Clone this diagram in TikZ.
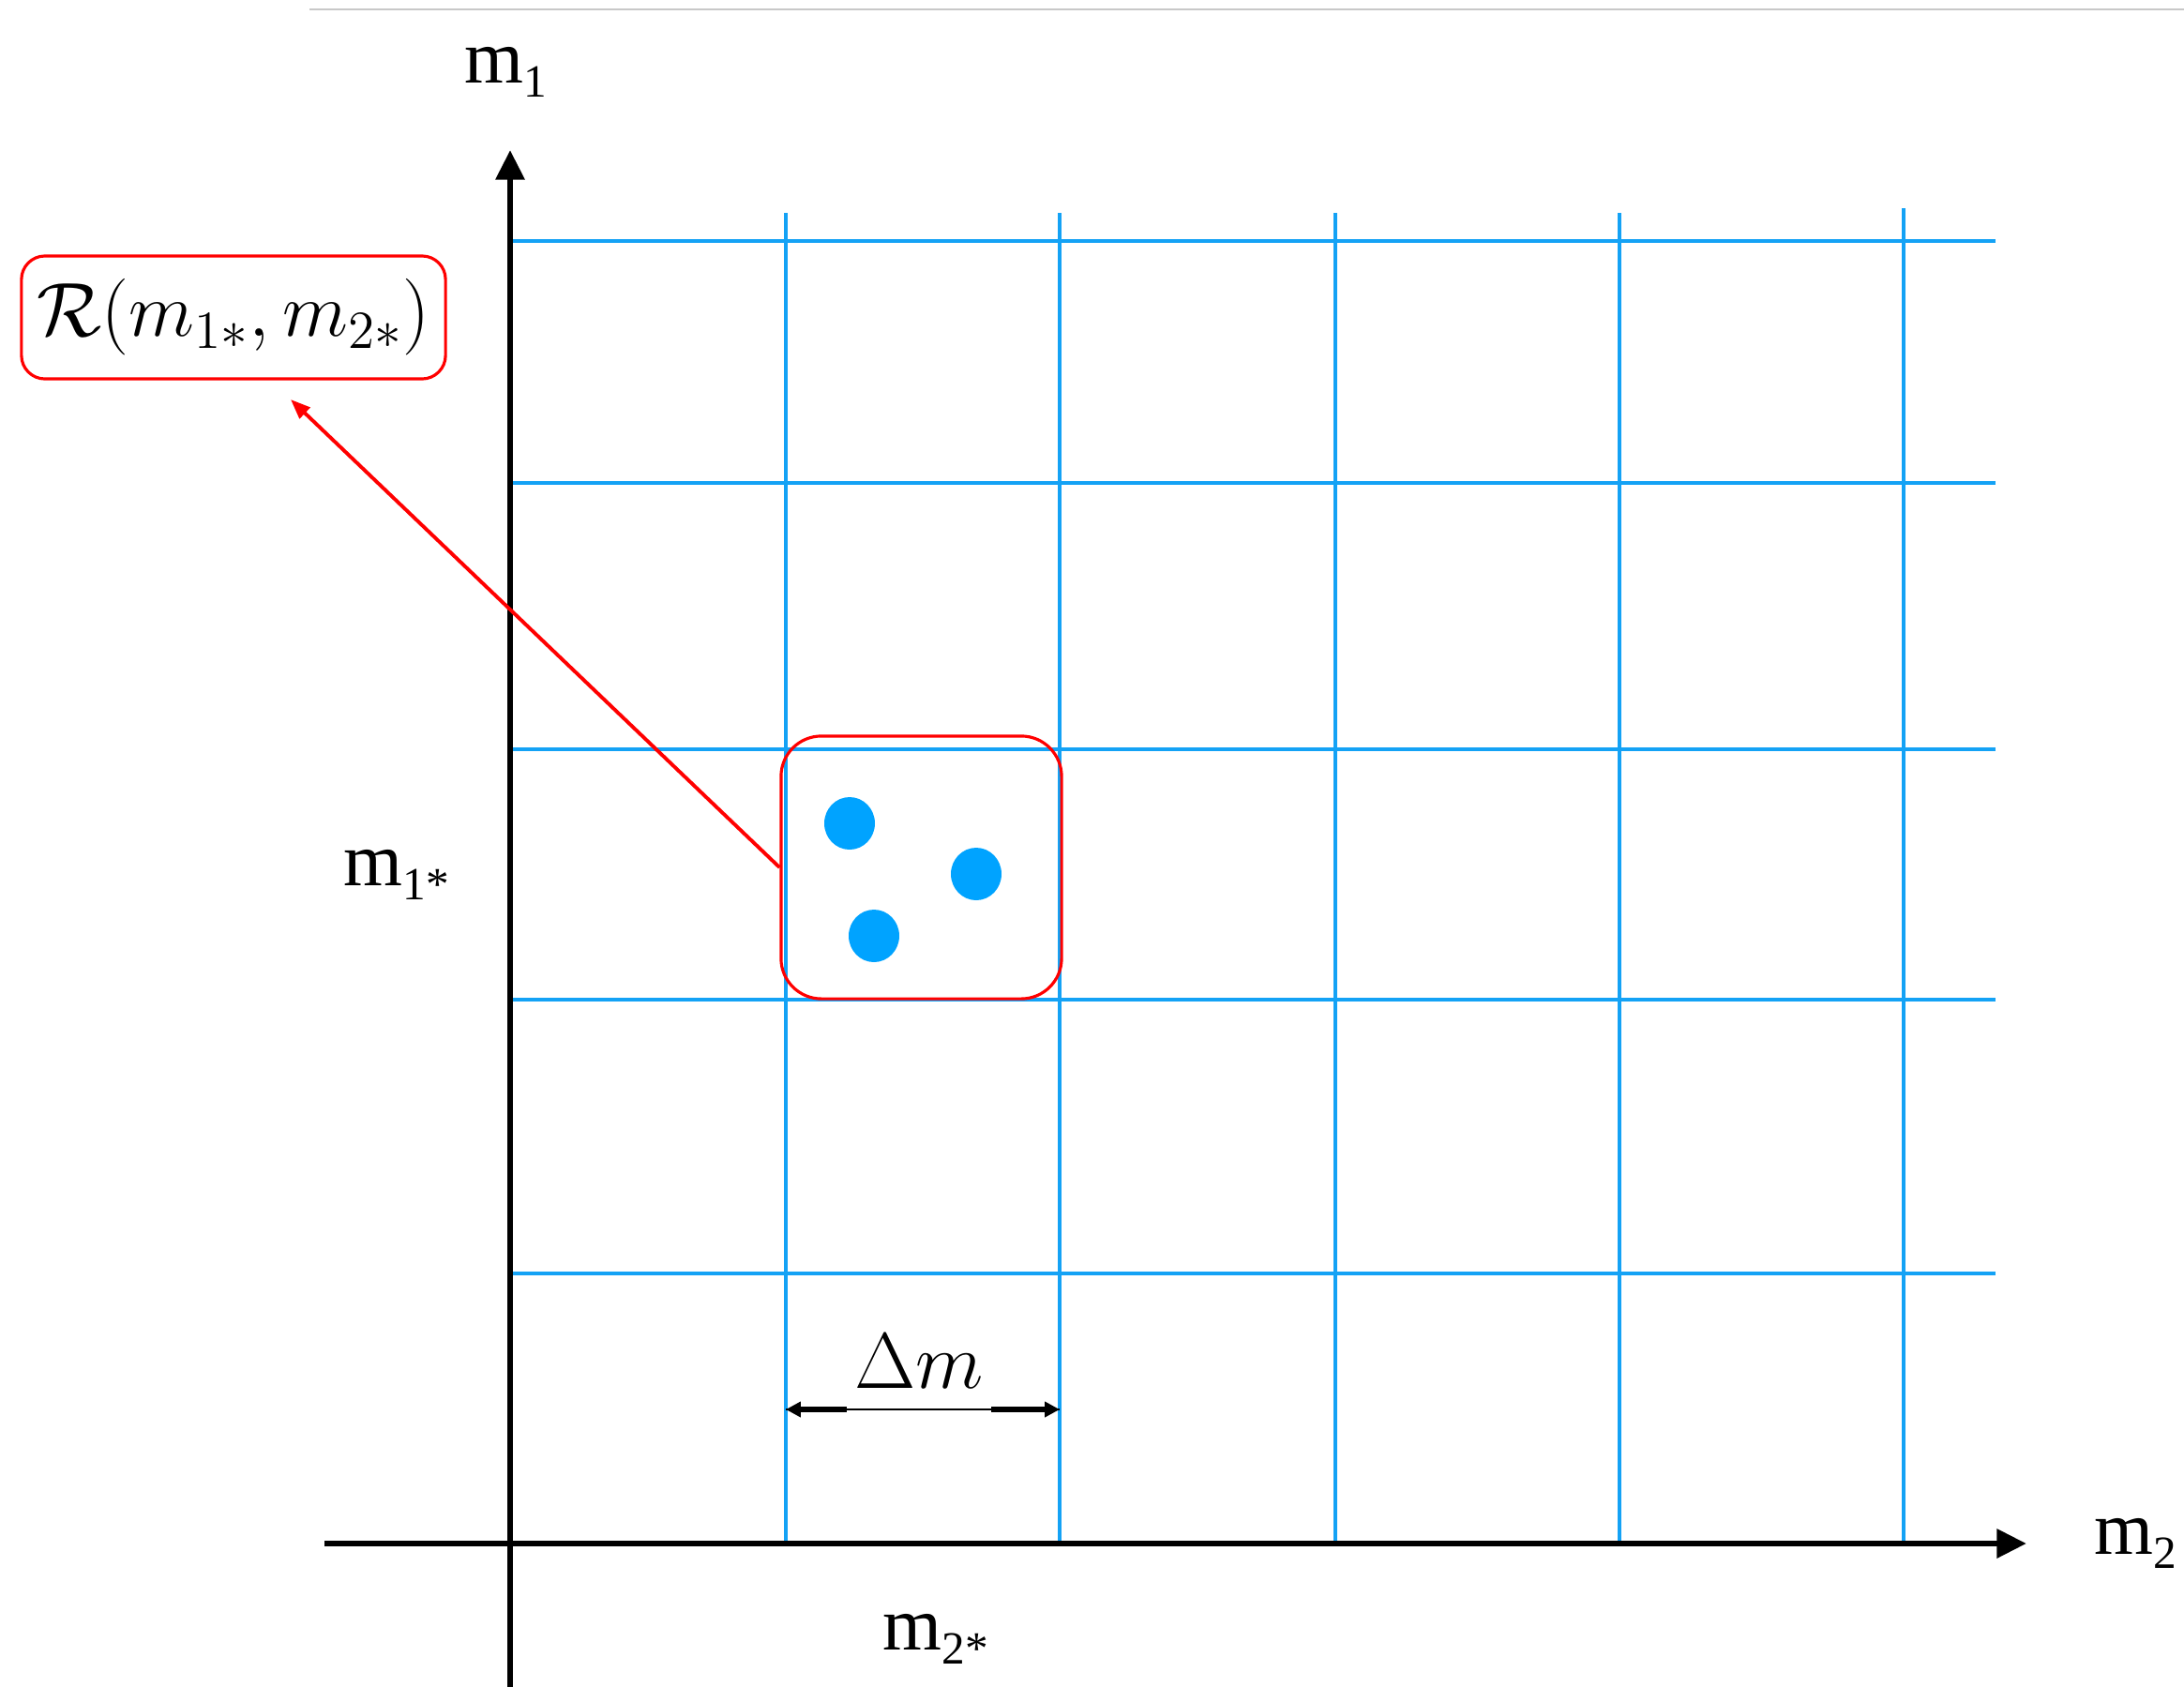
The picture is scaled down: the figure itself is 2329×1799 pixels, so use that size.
\documentclass[tikz,border=0pt]{standalone}
\usepackage{fix-cm}
\usepackage{fontspec}
\setmainfont{Liberation Serif}
\usetikzlibrary{arrows.meta}
\definecolor{gridblue}{RGB}{20,162,245}
\definecolor{dotblue}{RGB}{0,163,255}
\definecolor{rulegray}{RGB}{200,200,200}
\newcommand{\lowidx}[1]{\raisebox{-0.18em}{\fontsize{14}{16}\selectfont #1}}

\begin{document}
\begin{tikzpicture}[x=0.01cm,y=-0.01cm,
    axis/.style={line width=1.9pt,-{Triangle[length=9pt,width=8.5pt]}},
    gridline/.style={gridblue,line width=1.15pt},
    redbox/.style={draw=red,line width=0.9pt,inner sep=0pt},
    axislabel/.style={font=\fontsize{23}{27}\selectfont}]
  \useasboundingbox (0,0) rectangle (2329,1799);
  \draw[rulegray,line width=0.6pt] (330,10) -- (2329,10);
  % grid
  \foreach \x in {838,1130,1424,1727}
    \draw[gridline] (\x,227) -- (\x,1646);
  \draw[gridline] (2030,222) -- (2030,1646);
  \foreach \y in {257,515,799,1066,1358}
    \draw[gridline] (544,\y) -- (2128,\y);
  % axes
  \draw[axis] (544,1799) -- (544,160);
  \draw[axis] (346,1646) -- (2161,1646);
  \node[axislabel] (m1) at (539,77) {m\lowidx{1}};
  \node[axislabel] (m2) at (2277,1646) {m\lowidx{2}};
  \node[axislabel] (m1s) at (423,933) {m\lowidx{1*}};
  \node[axislabel] (m2s) at (998,1748) {m\lowidx{2*}};
  % samples in the cell
  \fill[dotblue] (906,878) ellipse (27 and 28);
  \fill[dotblue] (1041,932) ellipse (27 and 28);
  \fill[dotblue] (932,998) ellipse (27 and 28);
  \node[redbox,rounded corners=0.43cm,minimum width=2.99cm,minimum height=2.80cm]
    (cell) at (982.5,925) {};
  \node[redbox,rounded corners=0.25cm,minimum width=4.52cm,minimum height=1.31cm,
    font=\fontsize{23.2}{27}\selectfont] (region) at (249,338.5)
    {$\mathcal{R}(m_{1*},m_{2*})$};
  \coordinate (tip) at (310,426);
  \draw[red,line width=1.1pt,-{Triangle[length=6pt,width=4.5pt]}] (cell.west) -- (tip);
  % cell width
  \coordinate (dl) at (838,1503);
  \coordinate (dlm) at (903,1503);
  \coordinate (drm) at (1057,1503);
  \coordinate (dr) at (1130,1503);
  \draw[line width=0.6pt] (dl) -- (dr);
  \draw[line width=1.7pt,{Triangle[length=4.5pt,width=4.5pt]}-] (dl) -- (dlm);
  \draw[line width=1.7pt,-{Triangle[length=4.5pt,width=4.5pt]}] (drm) -- (dr);
  \node[font=\fontsize{24}{28}\selectfont,anchor=base] (dm) at (980,1480) {$\Delta m$};
\end{tikzpicture}
\end{document}
